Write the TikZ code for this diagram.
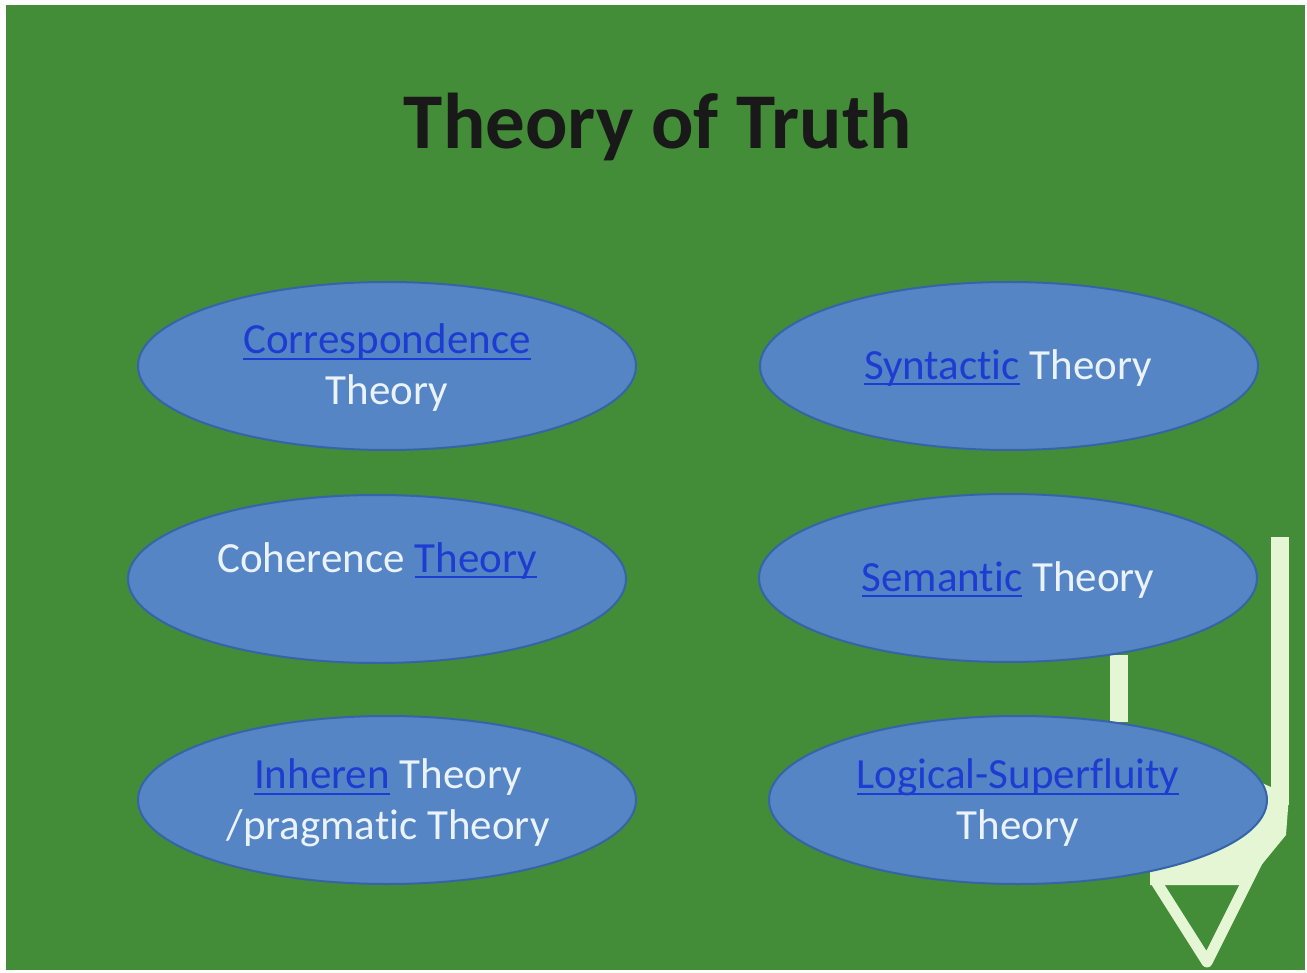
\documentclass[tikz,border=0pt]{standalone}
\usepackage{fontspec}
\setmainfont[Ligatures=NoCommon]{Carlito}
\usetikzlibrary{shapes.geometric}
\definecolor{bggreen}{HTML}{438C38}
\definecolor{ovalfill}{HTML}{5585C4}
\definecolor{ovaldraw}{HTML}{3565A8}
\definecolor{linkblue}{HTML}{1E3CD2}
\definecolor{txtwhite}{HTML}{EAF2FB}
\definecolor{deco}{HTML}{E4F6D4}
\newcommand{\lnk}[1]{\textcolor{linkblue}{\setbox0\hbox{#1}\rlap{\rule[-6pt]{\wd0}{2.2pt}}\box0}}
\tikzset{
  x=1pt,y=-1pt,
  oval/.style={ellipse,draw=ovaldraw,line width=2pt,fill=ovalfill,minimum width=498pt,minimum height=168pt,inner sep=0pt},
  otext/.style={text=txtwhite,font=\fontsize{43}{51}\selectfont,align=center,inner sep=0pt},
  decobar/.style={fill=deco,draw=none},
  decoline/.style={draw=deco,line width=11pt,line join=round}
}
\begin{document}
\begin{tikzpicture}
\useasboundingbox (0,0) rectangle (1307,973);
\fill[white] (0,0) rectangle (1307,973);
\fill[bggreen] (6,5) rectangle (1305,970);
% title
\node[font=\bfseries\fontsize{79}{84}\selectfont,text=black!90,inner sep=0pt] (title) at (658,127) {Theory of Truth};
% decoration
\fill[decobar] (1271,537) rectangle (1289,805);
\fill[decobar] (1110,655) rectangle (1128,722);
\fill[deco] (1255,780) -- (1289,795) -- (1286,835) -- (1245,885) -- (1150,885) -- (1150,860) -- cycle;
\coordinate (tl) at (1155,880);
\coordinate (ap) at (1207,962);
\coordinate (tr) at (1282,812);
\draw[decoline] (tl) -- (ap) -- (tr);
% ovals
\node[oval] (c1) at (387,366) {};
\node[oval] (c2) at (1009,366) {};
\node[oval] (c3) at (377,579) {};
\node[oval] (c4) at (1008,578) {};
\node[oval] (c5) at (387,800) {};
\node[oval] (c6) at (1018,800) {};
% texts
\node[otext] (t1) at (387,368) {\lnk{Correspondence}\\Theory};
\node[otext] (t2) at (1008,368) {\lnk{Syntactic} Theory};
\node[otext] (t3) at (377,561) {Coherence \lnk{Theory}};
\node[otext] (t4) at (1008,580) {\lnk{Semantic} Theory};
\node[otext] (t5) at (388,803) {\lnk{Inheren} Theory\\/pragmatic Theory};
\node[otext] (t6) at (1018,803) {\lnk{Logical-Superfluity}\\Theory};
\end{tikzpicture}
\end{document}
